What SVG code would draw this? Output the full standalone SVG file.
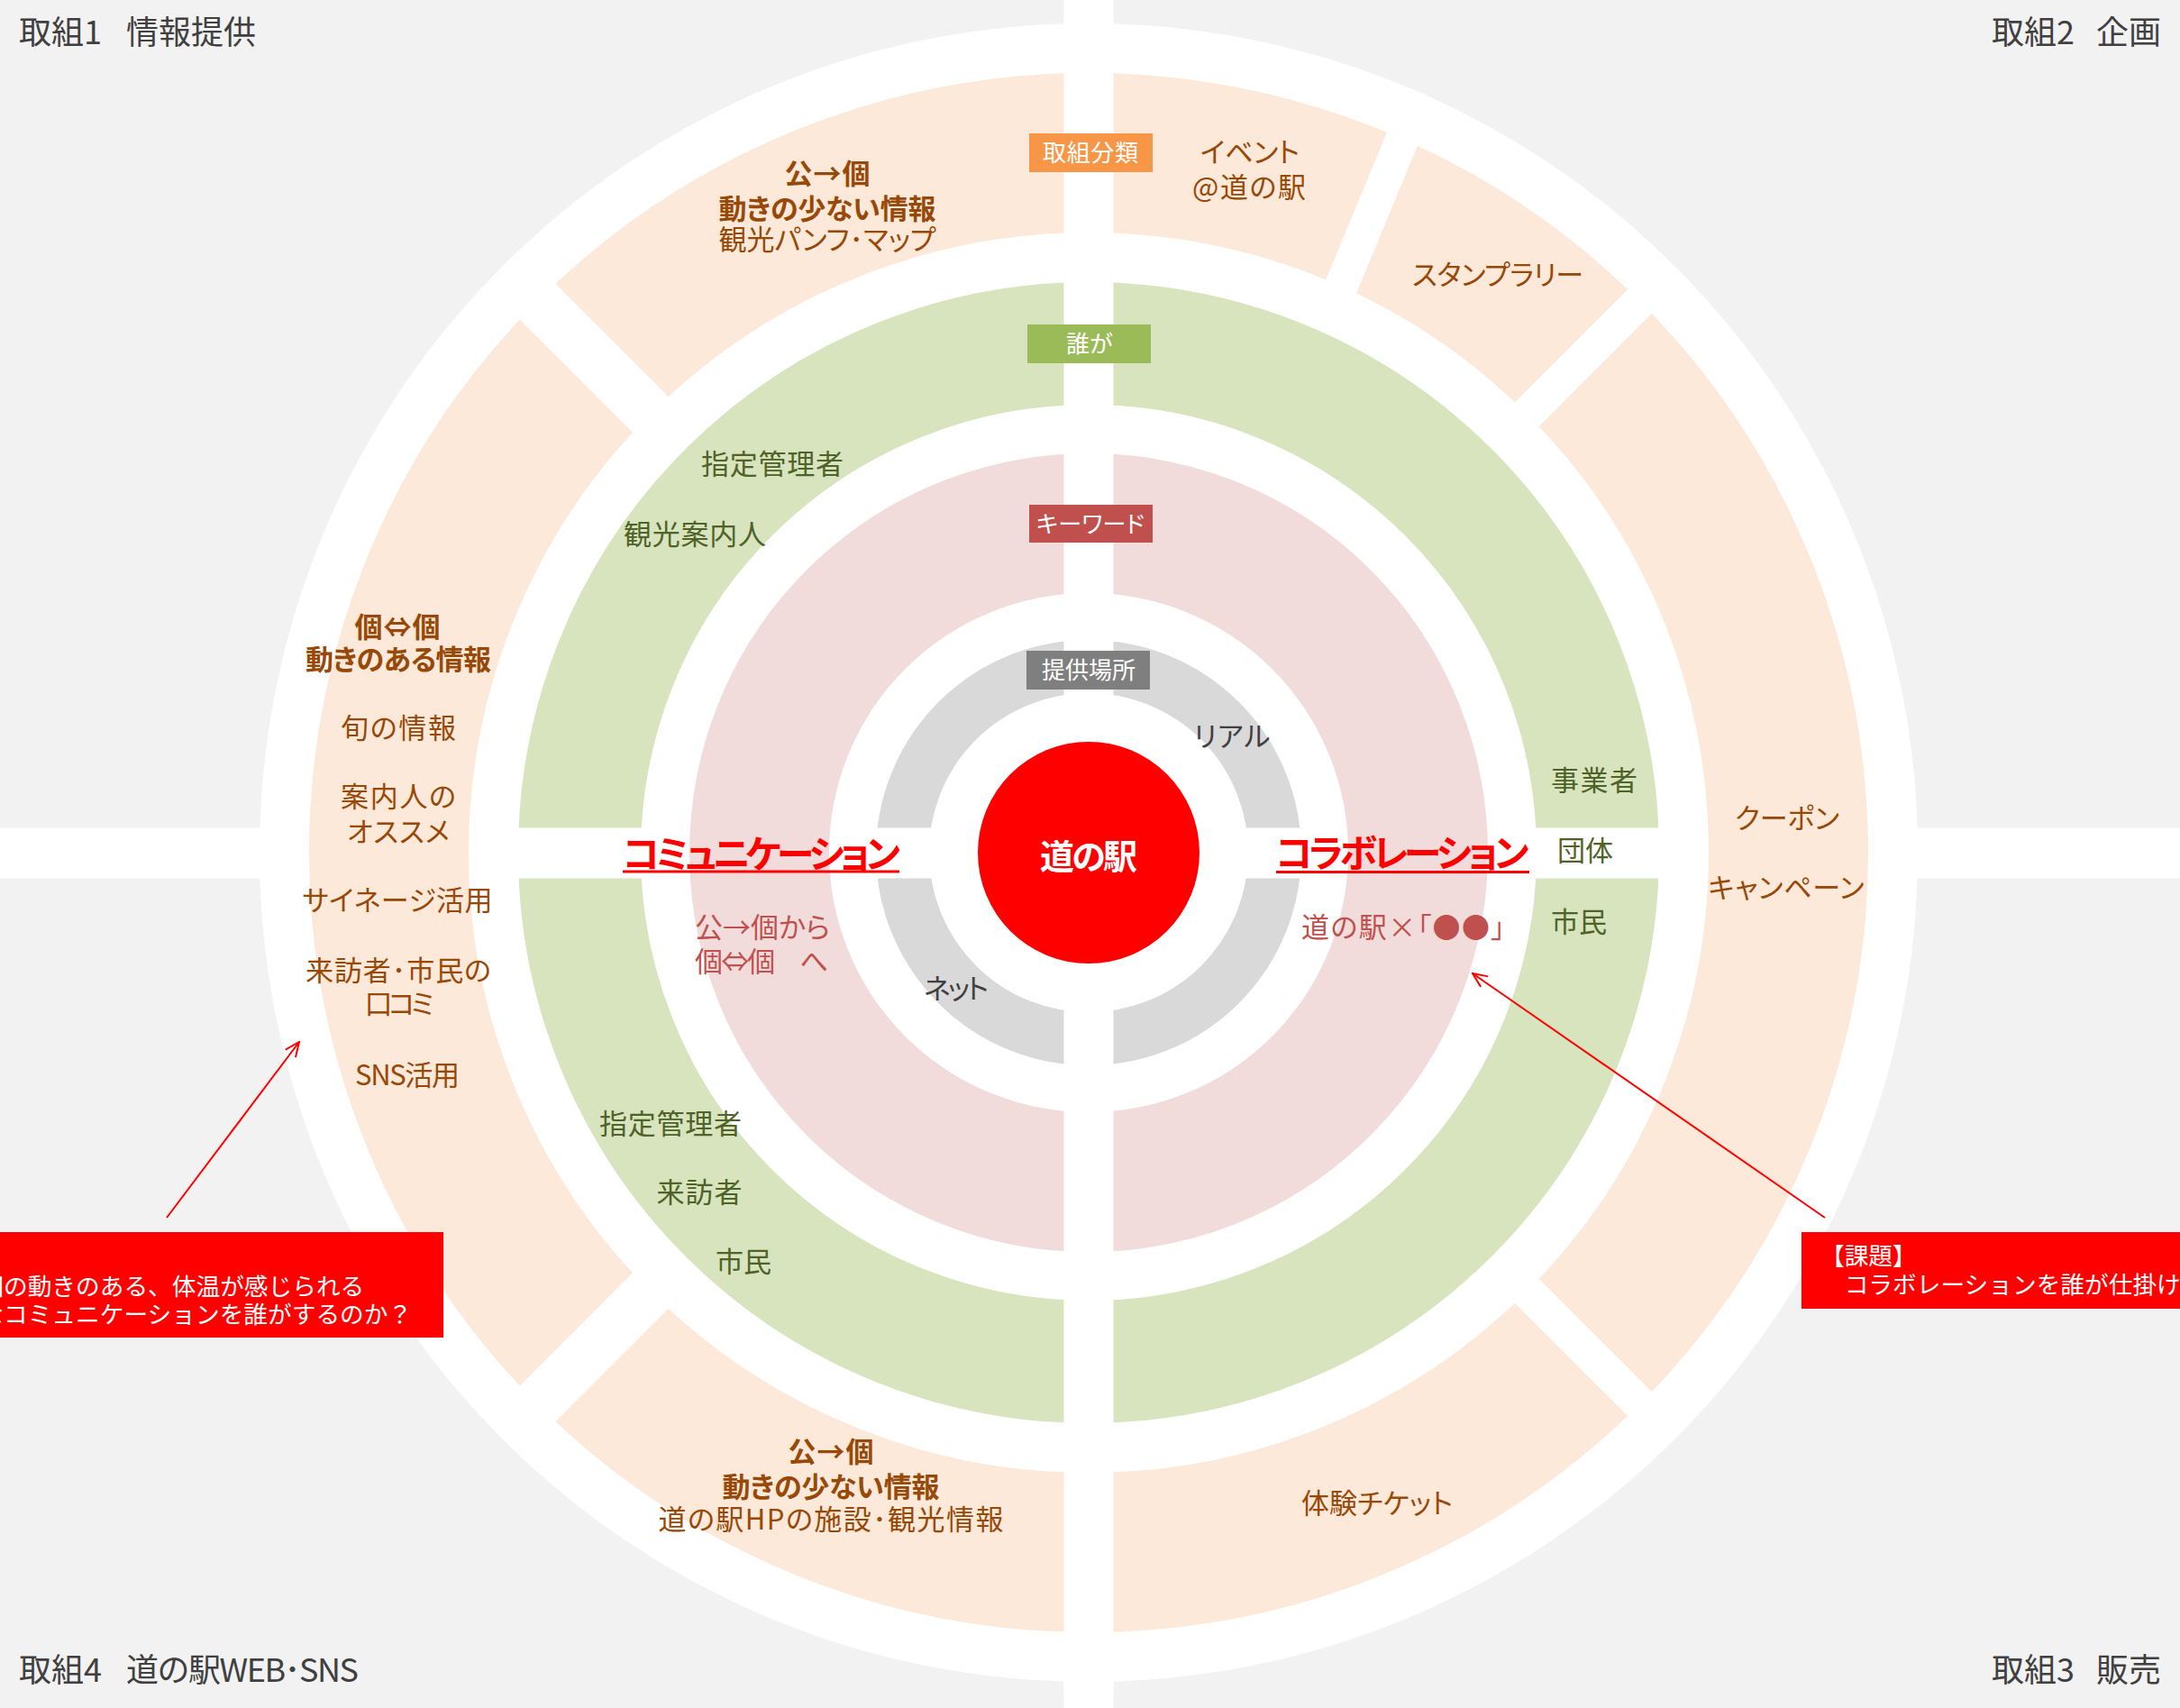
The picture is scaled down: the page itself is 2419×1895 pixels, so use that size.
<svg xmlns="http://www.w3.org/2000/svg" width="2419" height="1895" viewBox="0 0 2419 1895">
<defs>
<style>
text { font-family: 'Noto Sans CJK JP', 'Noto Sans', sans-serif; }
.m { text-anchor: middle; }
.p { font-feature-settings: "palt" 1; }
.b { font-weight: bold; }
.ot { fill: #984807; font-size: 31px; }
.gt { fill: #4F6228; font-size: 31px; }
.pt { fill: #C0504D; font-size: 31px; }
.yt { fill: #404040; font-size: 31px; }
.tag { fill: #FFFFFF; font-size: 26px; text-anchor: middle; }
.corner { fill: #404040; font-size: 36px; }
.big { fill: #FF0000; font-size: 42px; font-weight: bold; }
.call { fill: #FFFFFF; font-size: 26.7px; }
.cut { fill: #FFFFFF; }
.ring { fill: none; }
</style>
<marker id="open" viewBox="0 0 18 18" refX="17" refY="9" markerWidth="18" markerHeight="18" markerUnits="userSpaceOnUse" orient="auto">
<path d="M1,2 L17,9 L1,16" fill="none" stroke="#FF0000" stroke-width="2"/>
</marker>
</defs>

<g id="background">
<rect x="0" y="0" width="2419" height="1895" fill="#F2F2F2"/>
<rect x="1180.5" y="0" width="55" height="1895" fill="#FFFFFF"/>
<rect x="0" y="918.5" width="2419" height="56" fill="#FFFFFF"/>
<circle cx="1208" cy="946" r="920" fill="#FFFFFF"/>
</g>

<g id="rings">
<circle class="ring" cx="1208" cy="946" r="776.5" stroke="#FDE9D9" stroke-width="177"/>
<circle class="ring" cx="1208" cy="946" r="565" stroke="#D7E4BD" stroke-width="136"/>
<circle class="ring" cx="1208" cy="946" r="365.5" stroke="#F2DCDB" stroke-width="155"/>
<circle class="ring" cx="1208" cy="946" r="206.5" stroke="#D9D9D9" stroke-width="59"/>
</g>

<g id="ring-cuts">
<rect class="cut" x="1180.5" y="20" width="55" height="1855"/>
<rect class="cut" x="565" y="918.5" width="158" height="56"/>
<rect class="cut" x="1693" y="918.5" width="158" height="56"/>
<rect class="cut" x="962" y="918.5" width="80" height="56"/>
<rect class="cut" x="1374" y="918.5" width="80" height="56"/>
<g transform="translate(1208,946)">
<rect class="cut" x="655" y="-28" width="240" height="56" transform="rotate(-135)"/>
<rect class="cut" x="655" y="-28" width="240" height="56" transform="rotate(135)"/>
<rect class="cut" x="655" y="-19" width="240" height="38" transform="rotate(-45)"/>
<rect class="cut" x="655" y="-19" width="240" height="38" transform="rotate(45)"/>
<rect class="cut" x="655" y="0" width="240" height="37" transform="rotate(-67.5)"/>
</g>
</g>

<g id="node-center">
<circle cx="1208" cy="946" r="123" fill="#FF0000"/>
<text class="m b p" x="1208" y="964" font-size="38" fill="#FFFFFF" textLength="108">道の駅</text>
</g>

<g id="node-tag-category">
<rect x="1142" y="148" width="137" height="43" fill="#F79646"/>
<text class="tag" x="1210" y="179" textLength="106">取組分類</text>
</g>
<g id="node-tag-who">
<rect x="1140" y="360" width="137" height="43" fill="#9BBB59"/>
<text class="tag" x="1209" y="391" textLength="52">誰が</text>
</g>
<g id="node-tag-keyword">
<rect x="1142" y="560" width="137" height="42" fill="#C0504D"/>
<text class="tag p" x="1210" y="591" textLength="120">キーワード</text>
</g>
<g id="node-tag-place">
<rect x="1139" y="722" width="137" height="43" fill="#7F7F7F"/>
<text class="tag" x="1208" y="753" textLength="104">提供場所</text>
</g>

<g id="node-corner-labels">
<text class="corner" x="21" y="49">取組1　<tspan x="140">情報提供</tspan></text>
<text class="corner" x="2210" y="49">取組2　<tspan x="2326">企画</tspan></text>
<text class="corner" x="2210" y="1866">取組3　<tspan x="2326">販売</tspan></text>
<text class="corner" x="21" y="1866">取組4　<tspan x="140" textLength="258">道の駅WEB･SNS</tspan></text>
</g>

<g id="node-orange-top-left">
<text class="ot m b p" x="918" y="204" textLength="95">公→個</text>
<text class="ot m b p" x="918" y="243" textLength="241">動きの少ない情報</text>
<text class="ot m p" x="918" y="277" textLength="241">観光パンフ･マップ</text>
</g>
<g id="node-orange-left">
<text class="ot m b p" x="441" y="707" textLength="95">個⇔個</text>
<text class="ot m b p" x="442" y="743" textLength="206">動きのある情報</text>
<text class="ot m p" x="442" y="819" textLength="128">旬の情報</text>
<text class="ot m p" x="442" y="895" textLength="128">案内人の</text>
<text class="ot m p" x="442" y="934" textLength="114">オススメ</text>
<text class="ot m p" x="441" y="1010" textLength="211">サイネージ活用</text>
<text class="ot m p" x="442" y="1088" textLength="206">来訪者･市民の</text>
<text class="ot m p" x="443" y="1125" textLength="77">口コミ</text>
<text class="ot m p" x="452" y="1204" textLength="116">SNS活用</text>
</g>
<g id="node-orange-event">
<text class="ot m p" x="1387" y="180" textLength="110">イベント</text>
<text class="ot m p" x="1386" y="219" textLength="126">@道の駅</text>
</g>
<g id="node-orange-stamp">
<text class="ot m p" x="1662" y="316" textLength="190">スタンプラリー</text>
</g>
<g id="node-orange-right">
<text class="ot m p" x="1983" y="919" textLength="116">クーポン</text>
<text class="ot m p" x="1982" y="996" textLength="173">キャンペーン</text>
</g>
<g id="node-orange-bottom-right">
<text class="ot m p" x="1528" y="1679" textLength="168">体験チケット</text>
</g>
<g id="node-orange-bottom-left">
<text class="ot m b p" x="922" y="1622" textLength="95">公→個</text>
<text class="ot m b p" x="922" y="1661" textLength="241">動きの少ない情報</text>
<text class="ot m p" x="922" y="1697" textLength="383">道の駅HPの施設･観光情報</text>
</g>

<g id="node-green-top-left">
<text class="gt m" x="857" y="526" textLength="158">指定管理者</text>
<text class="gt m" x="771" y="604" textLength="158">観光案内人</text>
</g>
<g id="node-green-right">
<text class="gt" x="1721" y="877" textLength="96">事業者</text>
<text class="gt" x="1728" y="955" textLength="62">団体</text>
<text class="gt" x="1721" y="1034" textLength="62">市民</text>
</g>
<g id="node-green-bottom-left">
<text class="gt m" x="744" y="1258" textLength="158">指定管理者</text>
<text class="gt m" x="776" y="1334" textLength="95">来訪者</text>
<text class="gt m" x="825" y="1411" textLength="62">市民</text>
</g>

<g id="node-communication">
<text class="big m p" x="845" y="963" textLength="308">コミュニケーション</text>
<rect x="691" y="965.5" width="307" height="3" fill="#FF0000"/>
<text class="pt p" x="771" y="1040" textLength="150">公→個から</text>
<text class="pt p" x="771" y="1078" textLength="148">個⇔個　へ</text>
</g>
<g id="node-collaboration">
<text class="big m p" x="1556" y="962" textLength="281">コラボレーション</text>
<rect x="1416" y="966" width="281" height="3" fill="#FF0000"/>
<text class="pt p" x="1444" y="1040" textLength="226">道の駅×「●●」</text>
</g>

<g id="node-gray">
<text class="yt m p" x="1367" y="828" textLength="85">リアル</text>
<text class="yt m p" x="1061" y="1108" textLength="72">ネット</text>
</g>

<g id="node-callout-left">
<rect x="0" y="1367" width="492" height="117" fill="#FF0000"/>
<text class="call" x="-22.7" y="1437">個の動きのある、体温が感じられる</text>
<text class="call" x="-22.7" y="1468">なコミュニケーションを誰がするのか？</text>
</g>
<g id="node-callout-right">
<rect x="1999" y="1367" width="420" height="85" fill="#FF0000"/>
<text class="call" x="2020" y="1403">【課題】</text>
<text class="call" x="2020" y="1435">　コラボレーションを誰が仕掛け</text>
</g>

<g id="connectors" fill="none" stroke="#FF0000" stroke-width="2">
<line x1="185" y1="1351" x2="332" y2="1156" marker-end="url(#open)"/>
<line x1="2025" y1="1351" x2="1634" y2="1080" marker-end="url(#open)"/>
</g>
</svg>
